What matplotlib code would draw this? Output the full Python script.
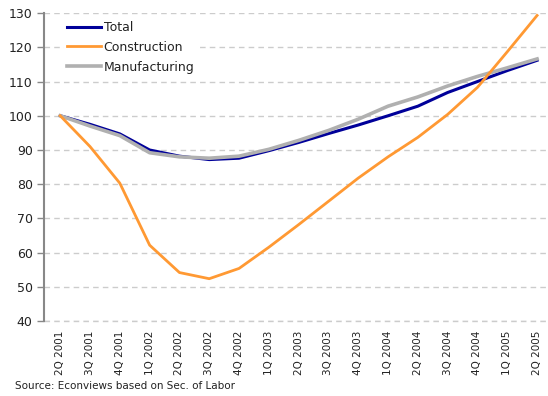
import matplotlib.pyplot as plt
import numpy as np

quarters = ["2Q 2001", "3Q 2001", "4Q 2001", "1Q 2002", "2Q 2002", "3Q 2002",
            "4Q 2002", "1Q 2003", "2Q 2003", "3Q 2003", "4Q 2003", "1Q 2004",
            "2Q 2004", "3Q 2004", "4Q 2004", "1Q 2005", "2Q 2005"]
total = [100, 97.5, 94.7, 90.0, 88.2, 87.2, 87.6, 89.8, 92.2, 94.8, 97.3,
         100.0, 102.8, 106.8, 110.0, 113.2, 116.2]
construction = [100, 91.0, 80.3, 62.2, 54.2, 52.4, 55.4, 61.6, 68.2, 75.0, 81.8,
                88.0, 93.7, 100.4, 108.3, 118.7, 129.3]
manufacturing = [100, 97.0, 94.2, 89.2, 88.0, 87.6, 88.2, 90.2, 92.8, 95.7, 99.0,
                 102.8, 105.5, 108.7, 111.5, 114.0, 116.6]

fig = plt.figure(figsize=(5.48, 3.96), dpi=100)
ax = fig.add_axes([0.080, 0.189, 0.930, 0.778])

x = np.arange(len(quarters))
ax.plot(x, total, color="#000099", lw=2.2, label="Total", zorder=3)
ax.plot(x, construction, color="#FF9933", lw=2.0, label="Construction", zorder=5)
ax.plot(x, manufacturing, color="#B0B0B0", lw=2.6, label="Manufacturing", zorder=4)

ax.set_xlim(-0.55, len(quarters) - 0.45)
ax.set_ylim(40, 130)
ax.set_yticks(range(40, 131, 10))
ax.set_xticks(x)
ax.set_xticklabels(quarters, rotation=90, fontsize=7.5, color="#222222")
ax.tick_params(axis="y", labelsize=9, colors="#222222", length=5, width=1,
               color="#888888", pad=3)
ax.tick_params(axis="x", length=0, pad=7)

ax.grid(axis="y", color="#CCCCCC", linestyle=(0, (4, 3)), lw=1)
ax.axhline(40, color="#CCCCCC", linestyle=(0, (4, 3)), lw=1, clip_on=False, zorder=1)
for s in ["top", "right", "bottom"]:
    ax.spines[s].set_visible(False)
ax.spines["left"].set_color("#888888")
ax.spines["left"].set_linewidth(1.5)

# white box behind the legend hides the gridlines there
leg = ax.legend(loc="upper left", bbox_to_anchor=(0.028, 1.005), frameon=True,
                facecolor="white", edgecolor="none", framealpha=1, fancybox=False,
                borderpad=0.25, fontsize=9, handlelength=2.7, handletextpad=0.2,
                labelspacing=0.55)
for t in leg.get_texts():
    t.set_color("#222222")

fig.text(0.027, 0.017, "Source: Econviews based on Sec. of Labor", fontsize=7.5,
         color="#222222")

fig.savefig("out.png", dpi=100)
